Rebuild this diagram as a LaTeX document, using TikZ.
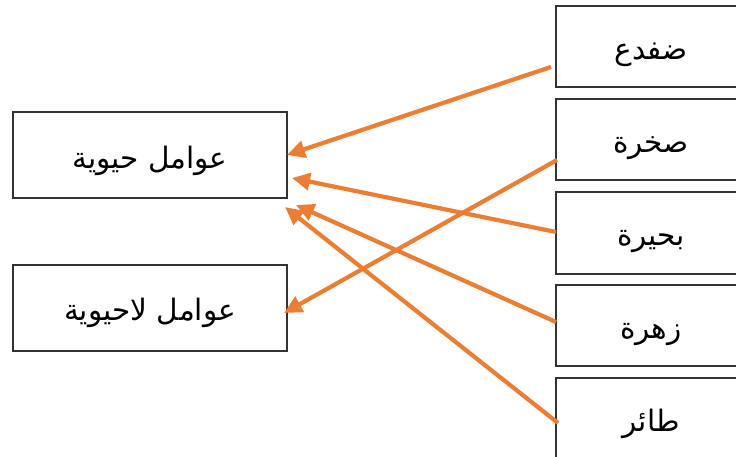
\documentclass[tikz,border=0pt]{standalone}
\usepackage{fontspec}
\usetikzlibrary{arrows.meta}
\TeXXeTstate=1
\newfontfamily\arabicfont[Script=Arabic]{DejaVu Sans}
\definecolor{arrOrange}{HTML}{ED7D31}
\definecolor{boxGray}{HTML}{333333}
\newcommand{\artext}[1]{\raisebox{-13pt}[0pt][0pt]{\beginR #1\endR}}
\tikzset{
  box/.style={draw=boxGray, line width=2pt, rectangle, inner sep=0pt, font=\arabicfont\fontsize{29.5}{32}\selectfont},
  leftbox/.style={box, minimum width=274pt, minimum height=86pt},
  rightbox/.style={box, minimum width=190pt, minimum height=81pt},
  conn/.style={draw=arrOrange, line width=4.2pt, -{Triangle[length=18pt,width=17pt]}}
}
\begin{document}
\begin{tikzpicture}[x=1pt,y=-1pt]
\useasboundingbox (0,0) rectangle (736,457);
\clip (0,0) rectangle (736,457);
\node[leftbox] (biotic) at (150,155.5) {\artext{عوامل حيوية}};
\node[leftbox] (abiotic) at (150,307.5) {\artext{عوامل لاحيوية}};
\node[rightbox] (frog) at (651,47) {\artext{ضفدع}};
\node[rightbox] (rock) at (651,140) {\artext{صخرة}};
\node[rightbox] (lake) at (651,233) {\artext{بحيرة}};
\node[rightbox] (flower) at (651,325.5) {\artext{زهرة}};
\node[rightbox] (bird) at (651,418) {\artext{طائر}};
\coordinate (frogS) at (551,67);
\coordinate (rockS) at (557,160);
\coordinate (lakeS) at (556,232);
\coordinate (flowerS) at (556,322);
\coordinate (birdS) at (558,423);
\coordinate (t1) at (287,155);
\coordinate (t2) at (292,178);
\coordinate (t3) at (296,205);
\coordinate (t4) at (285,207);
\coordinate (t5) at (284,313);
\draw[conn] (frogS) -- (t1);
\draw[conn] (lakeS) -- (t2);
\draw[conn] (flowerS) -- (t3);
\draw[conn] (birdS) -- (t4);
\draw[conn] (rockS) -- (t5);
\end{tikzpicture}
\end{document}
